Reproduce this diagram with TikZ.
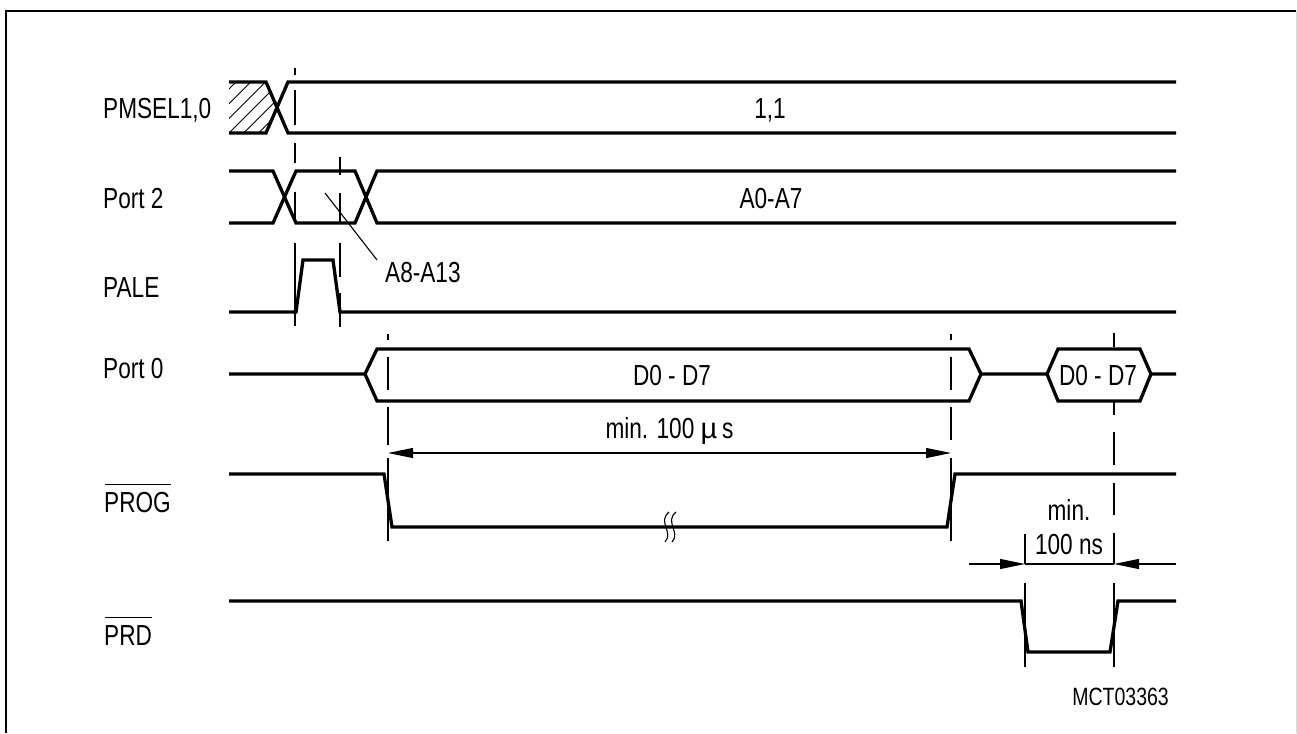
\documentclass[tikz,border=0pt]{standalone}
\usepackage{fontspec}
\setmainfont[FakeStretch=0.78]{Liberation Sans}
\usetikzlibrary{arrows.meta,positioning,calc}
\newcommand{\lblfont}{\fontsize{29}{32}\selectfont}
\newcommand{\tagfont}{\fontsize{25}{28}\selectfont}
\begin{document}
\begin{tikzpicture}[
    x=1pt, y=-1pt,
    >={Triangle[length=25pt,width=10pt]},
    wave/.style={line width=3.3pt, line join=miter},
    thinline/.style={line width=1.1pt},
    hatch/.style={line width=0.9pt},
    lbl/.style={inner sep=0pt, font=\lblfont, anchor=base west},
    val/.style={inner sep=0pt, font=\lblfont, anchor=base}
]
\useasboundingbox (0,0) rectangle (1297,733);
% frame
\draw[line width=2.2pt] (6,733) -- (6,11) -- (1296,11);
\draw[line width=1pt, black!15] (1296.5,11) -- (1296.5,733);

% signal names
\node[lbl] (pmsel) at (103,119) {PMSEL1,0};
\node[lbl] (port2) at (103,208) {Port 2};
\node[lbl] (pale) at (103,297) {PALE};
\node[lbl] (port0) at (103,378) {Port 0};
\node[lbl] (prog) at (104,512) {PROG};
\node[lbl] (prd) at (104,645) {PRD};
\draw[thinline] ($(prog.north west)+(1,-7)$) -- ($(prog.north east)+(0,-7)$);
\draw[thinline] ($(prd.north west)+(1,-7)$) -- ($(prd.north east)+(0,-7)$);

% hatching
\begin{scope}
\clip (229,82) -- (266,82) -- (277,107) -- (266,133) -- (229,133) -- cycle;
\foreach \c in {318,332.7,...,400}
    \draw[hatch] (\c-229,229) -- (\c-60,60);
\end{scope}

% waves
\draw[wave] (229,82) -- (266,82) -- (288,133) -- (1176,133);
\draw[wave] (229,133) -- (266,133) -- (288,82) -- (1176,82);
\draw[wave] (229,171) -- (273,171) -- (296,223) -- (355,223) -- (377,171) -- (1176,171);
\draw[wave] (229,223) -- (273,223) -- (296,171) -- (355,171) -- (377,223) -- (1176,223);
\draw[wave] (229,312) -- (296,312) -- (303,260) -- (333,260) -- (340,312) -- (1176,312);
\draw[wave] (229,374) -- (365,374) -- (377,349) -- (969,349) -- (981,374) -- (1047,374) -- (1058,349) -- (1140,349) -- (1151,374) -- (1176,374);
\draw[wave] (365,374) -- (377,401) -- (969,401) -- (981,374);
\draw[wave] (1047,374) -- (1058,401) -- (1140,401) -- (1151,374);
\draw[wave] (229,474) -- (384,474) -- (392,527) -- (947,527) -- (955,474) -- (1176,474);
\draw[wave] (229,601) -- (1021,601) -- (1028,652) -- (1110,652) -- (1118,601) -- (1176,601);

% guide lines
\foreach \x/\a/\b in {295/68/75, 295/90/125, 295/143/163, 295/192/223, 295/243/326,
    340/157/175, 340/193/223, 340/243/277, 340/293/327,
    388/334/340, 388/357/390, 388/407/445, 388/458/541,
    951/334/340, 951/357/390, 951/407/440, 951/458/541,
    1114/333/347, 1114/402/415, 1114/432/465, 1114/483/515, 1114/533/564, 1114/583/667,
    1025/534/564, 1025/583/667}
    \draw[thinline] (\x,\a) -- (\x,\b);

% leader
\node[lbl] (a8) at (385,282) {A8-A13};
\coordinate (a8tip) at (325,193);
\draw[thinline] (a8tip) -- (377,260);

% values
\node[val] (v11) at (770,119) {1,1};
\node[val] (va0) at (771,208) {A0-A7};
\node[val] (vd0) at (672,385) {D0 - D7};
\node[val] (vd1) at (1098,385) {D0 - D7};

% dimensions
\coordinate (tl) at (388,453);
\coordinate (tr) at (951,453);
\draw[thinline,<->] (tl) -- (tr);
\node[val] (minus) at (669.5,438) {min. 100 {\fontspec{Liberation Sans}\textmu}\,s};
\coordinate (nl) at (1025,564);
\coordinate (nr) at (1114,564);
\draw[thinline] (nl) -- (nr);
\draw[thinline,->] (969,564) -- (nl);
\draw[thinline,->] (1176,564) -- (nr);
\node[val] (minn) at (1069,520) {min.};
\node[val] (minnv) at (1069,554) {100 ns};

% break mark
\foreach \x in {0,7}
    \draw[thinline] (669+\x,512) .. controls (657+\x,522) and (674+\x,532) .. (665+\x,542);

\node[inner sep=0pt, font=\tagfont, anchor=base east] (tag) at (1169,705) {MCT03363};
\end{tikzpicture}
\end{document}
